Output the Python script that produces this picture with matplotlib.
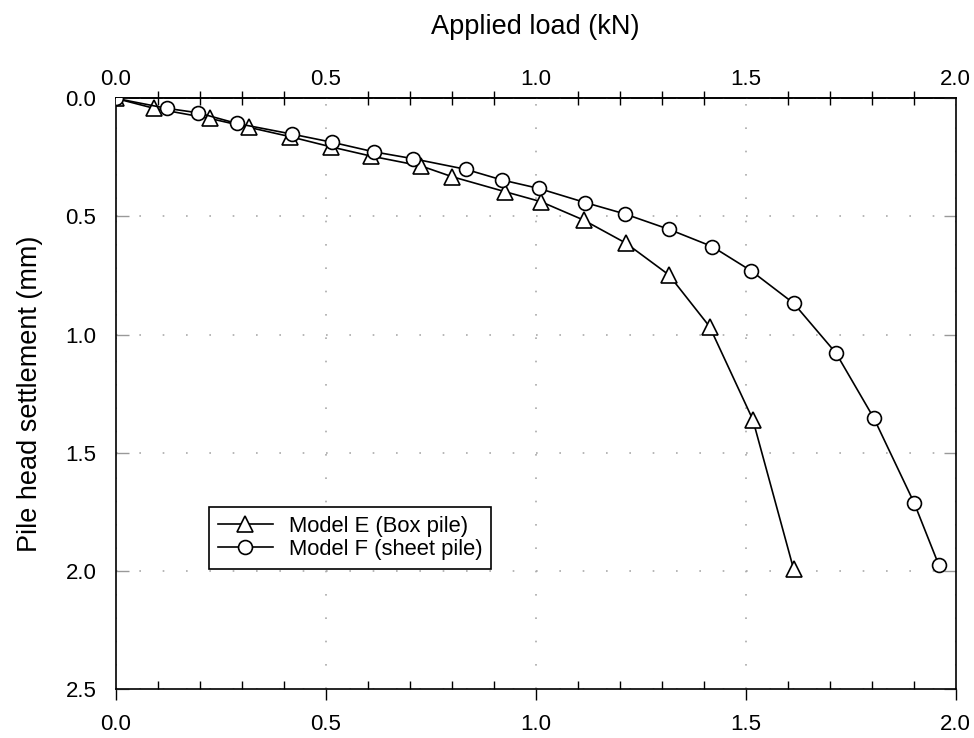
import matplotlib
matplotlib.use("Agg")
import matplotlib.pyplot as plt
from matplotlib.ticker import MultipleLocator, FixedLocator, FormatStrFormatter

plt.rcParams['font.family'] = ['Liberation Sans', 'DejaVu Sans']

# Model E (Box pile)
load_e = [0.0, 0.091, 0.224, 0.318, 0.415, 0.512, 0.607, 0.727, 0.800, 0.927, 1.012,
          1.114, 1.215, 1.317, 1.414, 1.517, 1.614]
settle_e = [0.0, 0.042, 0.085, 0.123, 0.162, 0.205, 0.244, 0.286, 0.331, 0.395, 0.437,
            0.515, 0.613, 0.747, 0.966, 1.360, 1.992]

# Model F (sheet pile)
load_f = [0.0, 0.121, 0.196, 0.288, 0.419, 0.516, 0.614, 0.707, 0.833, 0.919, 1.007,
          1.118, 1.212, 1.317, 1.420, 1.513, 1.614, 1.715, 1.805, 1.901, 1.960]
settle_f = [0.0, 0.042, 0.061, 0.106, 0.151, 0.186, 0.226, 0.255, 0.300, 0.345, 0.381,
            0.441, 0.489, 0.554, 0.627, 0.730, 0.867, 1.078, 1.353, 1.712, 1.976]

labels = ["Model E (Box pile)", "Model F (sheet pile)"]
x_ticks = [0.0, 0.5, 1.0, 1.5, 2.0]
x_minor = [0.1, 0.2, 0.3, 0.4, 0.6, 0.7, 0.8, 0.9, 1.1, 1.2, 1.3, 1.4,
           1.6, 1.7, 1.8, 1.9]

fig = plt.figure(figsize=(9.74, 7.38), dpi=100)
ax = fig.add_axes([0.1188, 0.0664, 0.8624, 0.8003])

ax.plot(load_e, settle_e, color='black', lw=1.2, marker='^', ms=11,
        mfc='white', mec='black', mew=1.2, label=labels[0], zorder=3)
ax.plot(load_f, settle_f, color='black', lw=1.2, marker='o', ms=10,
        mfc='white', mec='black', mew=1.2, label=labels[1], zorder=4)

ax.set_xlim(0, 2.0)
ax.set_ylim(2.5, 0)

ax.xaxis.set_major_locator(FixedLocator(x_ticks))
ax.xaxis.set_minor_locator(FixedLocator(x_minor))
ax.yaxis.set_major_locator(MultipleLocator(0.5))
ax.xaxis.set_major_formatter(FormatStrFormatter('%.1f'))
ax.yaxis.set_major_formatter(FormatStrFormatter('%.1f'))

# bottom axis: major out, minor in
ax.tick_params(axis='x', which='major', top=False, direction='out',
               length=8, width=1, labelsize=16, pad=10)
ax.tick_params(axis='x', which='minor', top=False, direction='in', length=6, width=1)
ax.tick_params(axis='y', which='major', left=True, direction='out', length=9, width=1,
               labelsize=16, pad=14)
ax.tick_params(axis='y', which='major', right=True, direction='in', length=9,
               width=1, color='#999999')

# top axis: labels only at majors, minor ticks crossing the spine
top = ax.secondary_xaxis('top')
top.xaxis.set_major_locator(FixedLocator(x_ticks))
top.xaxis.set_minor_locator(FixedLocator(x_minor))
top.xaxis.set_major_formatter(FormatStrFormatter('%.1f'))
top.tick_params(axis='x', which='major', length=0, labelsize=16, pad=6)
top.tick_params(axis='x', which='minor', direction='inout', length=10, width=1)
top.spines['top'].set_linewidth(1.2)
top.set_xlabel("Applied load (kN)", fontsize=19.5, labelpad=25)

ax.grid(True, which='major', color='#aaaaaa', lw=1.2, linestyle=(0, (1, 13)))

for s in ax.spines.values():
    s.set_linewidth(1.2)

ax.set_ylabel("Pile head settlement (mm)", fontsize=19.5, labelpad=16)

leg = ax.legend(loc='upper left', bbox_to_anchor=(0.111, 0.308), fontsize=15.8,
                frameon=True, fancybox=False, edgecolor='black', framealpha=1,
                handlelength=2.5, borderpad=0.4, labelspacing=0.1,
                handletextpad=0.75, borderaxespad=0)
leg.get_frame().set_linewidth(1.2)

fig.savefig("out.png", dpi=100)
